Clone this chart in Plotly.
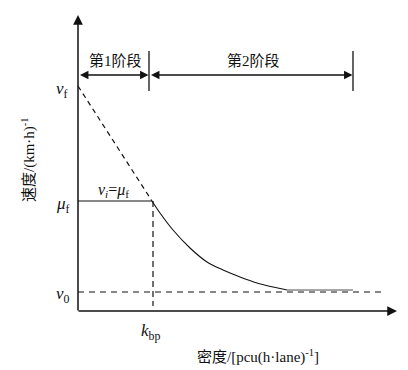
import plotly.graph_objects as go

# ---- data (arbitrary chart units: density k, speed v) ----
v_f = 225
mu_f = 110
v_0 = 19
k_bp = 74
k_max_axis = 319
v_max_axis = 296

# free-flow dashed extension line
k_free = [0, k_bp]
v_free = [v_f, mu_f]

# stage-1 constant speed
k_stage1 = [0, k_bp]
v_stage1 = [mu_f, mu_f]

# stage-2 decaying curve
k_curve = [74, 82, 95, 112, 129, 145, 162, 179, 195, 209]
v_curve = [110, 98, 81, 63, 49, 41, 34, 28, 24, 21]

# flat tail (gray)
k_tail = [209, 275]
v_tail = [21, 21]

# v0 dashed line
k_v0 = [0, 307]
v_v0 = [v_0, v_0]

# k_bp dashed vertical
k_bp_line = [75, 75]
v_bp_line = [mu_f, 5]

# stage brackets
stage_edges = [0, 71, 275]
stage_arrow_v = 236
stage_bar_v = [220, 260]
stage_labels = ["第1阶段", "第2阶段"]

CJK = "Liberation Serif, Noto Sans CJK SC, serif"
SERIF = "Liberation Serif, serif"

fig = go.Figure()
black = "#111"
fig.add_trace(go.Scatter(x=k_free, y=v_free, mode="lines",
                         line=dict(color=black, width=1.2, dash="5px,4px")))
fig.add_trace(go.Scatter(x=k_stage1, y=v_stage1, mode="lines",
                         line=dict(color=black, width=1.2)))
fig.add_trace(go.Scatter(x=k_curve, y=v_curve, mode="lines", line_shape="spline",
                         line=dict(color=black, width=1.1)))
fig.add_trace(go.Scatter(x=k_tail, y=v_tail, mode="lines",
                         line=dict(color="#888", width=1.6)))
fig.add_trace(go.Scatter(x=k_v0, y=v_v0, mode="lines",
                         line=dict(color=black, width=1.2, dash="6px,5px")))
fig.add_trace(go.Scatter(x=k_bp_line, y=v_bp_line, mode="lines",
                         line=dict(color=black, width=1.2, dash="6px,4px")))

# vertical bracket bars
for kx in stage_edges[1:]:
    fig.add_trace(go.Scatter(x=[kx, kx], y=stage_bar_v, mode="lines",
                             line=dict(color=black, width=1.3)))

ann = []
# axes with arrows
ann.append(dict(x=0, y=v_max_axis, ax=0, ay=-1, xref="x", yref="y", axref="x", ayref="y",
                showarrow=True, arrowhead=2, arrowsize=1.3, arrowwidth=1.5, arrowcolor=black, text=""))
ann.append(dict(x=k_max_axis, y=0, ax=-1, ay=0, xref="x", yref="y", axref="x", ayref="y",
                showarrow=True, arrowhead=2, arrowsize=1.3, arrowwidth=1.5, arrowcolor=black, text=""))
# stage double arrows
for i in range(2):
    a, b = stage_edges[i], stage_edges[i + 1]
    ann.append(dict(x=b - 0.5, y=stage_arrow_v, ax=a + 0.5, ay=stage_arrow_v, xref="x", yref="y",
                    axref="x", ayref="y", showarrow=True, arrowhead=2, startarrowhead=2,
                    arrowside="end+start", arrowsize=1.3, startarrowsize=1.3, arrowwidth=1.3,
                    arrowcolor=black, text=""))
    ann.append(dict(x=[37, 175][i], y=251, text=stage_labels[i], showarrow=False,
                    font=dict(family=CJK, size=15, color=black)))

# symbol labels
ann.append(dict(x=-24, y=221, text="<i>v</i><sub>f</sub>", xanchor="left", showarrow=False,
                font=dict(family=SERIF, size=17, color=black)))
ann.append(dict(x=-24, y=106, text="<i>μ</i><sub>f</sub>", xanchor="left", showarrow=False,
                font=dict(family=SERIF, size=17, color=black)))
ann.append(dict(x=-24, y=16, text="<i>v</i><sub>0</sub>", xanchor="left", showarrow=False,
                font=dict(family=SERIF, size=17, color=black)))
ann.append(dict(x=35, y=121, text="<i>v</i><sub><i>i</i></sub>=<i>μ</i><sub>f</sub>", showarrow=False,
                font=dict(family=SERIF, size=16, color=black)))
ann.append(dict(x=72, y=-21, text="<i>k</i><sub>bp</sub>", showarrow=False,
                font=dict(family=SERIF, size=17, color=black)))
ann.append(dict(x=180, y=-45, text="密度/[pcu(h·lane)<sup>-1</sup>]", showarrow=False,
                font=dict(family=CJK, size=15, color=black)))
ann.append(dict(x=-50, y=151, text="速度/(km·h)<sup>-1</sup>", textangle=-90, showarrow=False,
                font=dict(family=CJK, size=15, color=black)))

fig.update_layout(
    width=408, height=370,
    margin=dict(l=0, r=0, t=0, b=0),
    paper_bgcolor="white", plot_bgcolor="white",
    showlegend=False,
    xaxis=dict(range=[-70, 338], visible=False, fixedrange=True),
    yaxis=dict(range=[-67, 303], visible=False, fixedrange=True),
    annotations=ann,
)

fig.write_html("out.html")
